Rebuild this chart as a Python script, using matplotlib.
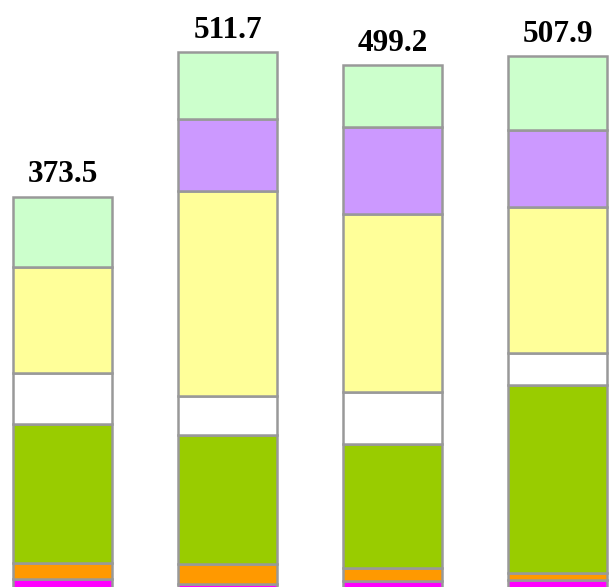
import matplotlib
matplotlib.use("Agg")
import matplotlib.pyplot as plt
import numpy as np

# Stacked components, bottom to top, for each of the four columns
totals = [373.5, 511.7, 499.2, 507.9]
magenta = [8.6, 3.8, 6.7, 7.4]
orange = [15.0, 19.3, 12.1, 6.6]
green = [132.6, 123.3, 118.6, 179.9]
white = [49.3, 37.4, 49.7, 30.9]
yellow = [101.2, 195.7, 170.3, 139.4]
purple = [0.0, 68.4, 82.8, 73.3]
light_green = [66.8, 63.8, 59.0, 70.4]

series = [magenta, orange, green, white, yellow, purple, light_green]
colors = ["#FF00FF", "#FF9900", "#99CC00", "#FFFFFF", "#FFFF99", "#CC99FF", "#CCFFCC"]

fig = plt.figure(figsize=(6.14, 5.87), dpi=100)
ax = fig.add_axes([0, 0, 1, 1])

x = np.arange(len(totals))
bottom = np.zeros(len(totals))
for vals, col in zip(series, colors):
    v = np.array(vals, dtype=float)
    mask = v > 0
    ax.bar(x[mask], v[mask], width=0.6, bottom=bottom[mask], color=col,
           edgecolor="#999999", linewidth=1.8, zorder=2)
    bottom += v

for xi, t in zip(x, totals):
    ax.annotate(f"{t:.1f}", xy=(xi, t), xytext=(0, 10.5), textcoords="offset points",
                ha="center", va="baseline", fontsize=22.5, fontweight="bold",
                family=["Liberation Serif", "DejaVu Serif"], color="black")

ax.set_xlim(-0.379, 3.342)
ax.set_ylim(1.0, 561.6)
ax.axis("off")

fig.savefig("out.png", dpi=100)
